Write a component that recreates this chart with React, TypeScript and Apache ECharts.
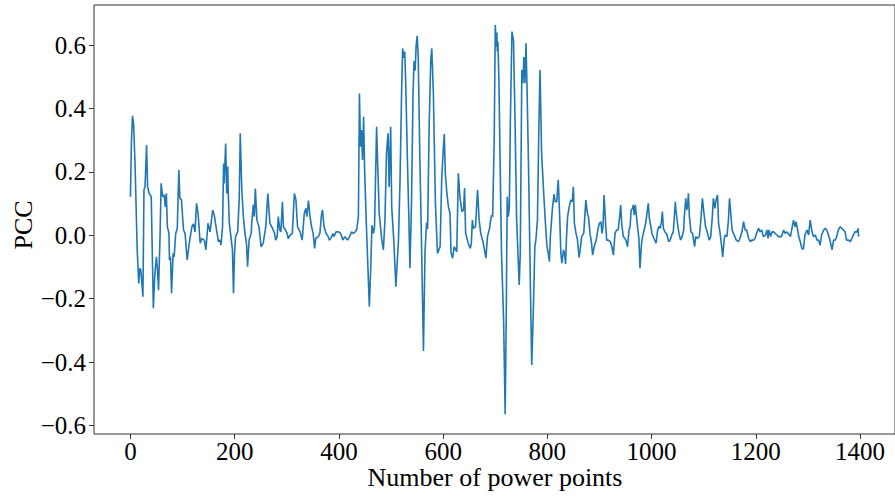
import React, { useEffect, useRef } from "react";
import * as echarts from "echarts";

// Sample positions (point index) and PCC values
const pointIndex = [
  0, 2, 4, 6, 9, 13, 16, 18, 20, 24, 26, 28, 31, 33, 36, 40, 44, 47, 50, 52, 54, 57, 59, 62, 65, 67, 69, 71, 74, 75, 77, 79, 82, 84, 87, 90, 93, 95, 98,
  102, 105, 109, 113, 118, 121, 124, 127, 130, 134, 137, 142, 145, 149, 153, 158, 161, 165, 169, 172, 174, 177, 179, 180, 183, 185, 187, 188, 190, 193, 196, 198,
  200, 202, 206, 209, 211, 214, 217, 220, 223, 225, 228, 232, 233, 236, 238, 240, 243, 247, 251, 255, 260, 264, 268, 273, 277, 279, 282, 284, 287, 289, 292, 294, 298,
  301, 303, 307, 311, 315, 318, 321, 326, 330, 334, 337, 339, 342, 345, 348, 351, 354, 356, 361, 364, 367, 369, 372, 376, 380, 382, 385, 389, 391, 395,
  400, 404, 408, 412, 417, 421, 425, 428, 432, 435, 438, 440, 442, 444, 446, 448, 450, 453, 456, 459, 462, 464, 467, 469, 473, 475, 478, 483, 486, 489, 492, 495, 497,
  500, 502, 506, 510, 515, 518, 521, 523, 525, 527, 529, 532, 535, 537, 540, 543, 545, 547, 549, 551, 553, 556, 559, 563, 566, 569, 571, 574, 577, 579, 582, 586, 590, 595, 598,
  601, 603, 605, 608, 611, 614, 616, 619, 622, 625, 627, 630, 633, 637, 640, 642, 644, 649, 653, 655, 657, 659, 663, 667, 670, 673, 678, 683, 686, 690, 692, 694, 696, 699,
  701, 703, 704, 705, 706, 708, 710, 713, 717, 720, 722, 723, 724, 726, 728, 730, 733, 736, 739, 742, 747, 749, 752, 754, 756, 758, 760, 762, 765, 768, 771, 774, 777, 779, 782, 785, 787, 790, 794, 797,
  800, 803, 805, 807, 811, 814, 816, 819, 822, 825, 827, 829, 832, 834, 836, 838, 840, 843, 846, 849, 851, 853, 856, 859, 862, 864, 867, 871, 875, 878, 880, 883, 886, 888, 891, 895, 898,
  901, 904, 906, 908, 910, 913, 915, 918, 922, 925, 928, 931, 934, 937, 940, 942, 944, 947, 950, 952, 955, 958, 960, 962, 965, 966, 968, 970, 973, 975, 977, 979, 982, 984, 987, 990, 992, 995, 997,
  1000, 1002, 1006, 1010, 1013, 1016, 1018, 1020, 1022, 1024, 1027, 1031, 1034, 1037, 1040, 1043, 1047, 1048, 1052, 1054, 1057, 1060, 1063, 1064, 1067, 1069, 1071, 1072, 1074, 1077, 1080, 1084, 1086, 1089, 1093, 1096, 1099,
  1102, 1105, 1109, 1112, 1115, 1118, 1120, 1123, 1125, 1128, 1130, 1133, 1136, 1138, 1141, 1143, 1146, 1149, 1151, 1153, 1156, 1160, 1164, 1168, 1171, 1175, 1178, 1181, 1184, 1188, 1191, 1194, 1197,
  1200, 1204, 1207, 1210, 1213, 1216, 1220, 1223, 1225, 1227, 1230, 1233, 1236, 1239, 1242, 1245, 1248, 1251, 1255, 1258, 1261, 1264, 1268, 1271, 1274, 1277, 1279, 1282, 1284, 1287, 1290, 1293, 1296,
  1300, 1303, 1306, 1309, 1312, 1316, 1319, 1322, 1325, 1328, 1332, 1335, 1338, 1341, 1344, 1348, 1351, 1354, 1357, 1360, 1364, 1367, 1370, 1373, 1376, 1380, 1383, 1386, 1389, 1392, 1396, 1398, 1399,
];

const pccValue = [
  0.122, 0.3, 0.377, 0.354, 0.217, -0.046, -0.152, -0.104, -0.11, -0.194, 0.143, 0.153, 0.285, 0.153, 0.132, 0.122, -0.23, -0.12, -0.068, -0.11, -0.173, 0.006, 0.164, 0.122, 0.127, 0.09, 0.133, 0.027, 0.006, -0.078, -0.068, -0.183, -0.057, -0.068, 0.006, 0.022, 0.206, 0.117, 0.112,
  0.017, 0.006, -0.078, -0.025, 0.027, 0.036, 0.011, 0.101, 0.069, -0.025, -0.01, -0.015, -0.046, 0.038, 0.011, 0.08, 0.064, 0.022, -0.02, -0.015, -0.031, 0.027, 0.227, 0.164, 0.29, 0.132, 0.217, 0.132, 0.038, -0.004, -0.046, -0.183,
  -0.057, -0.004, 0.011, 0.112, 0.322, 0.143, 0.059, 0.006, -0.025, -0.099, -0.015, 0.006, 0.038, 0.096, 0.059, 0.148, 0.048, 0.027, -0.036, -0.025, 0.027, 0.132, 0.038, 0.022, 0.006, -0.015, -0.004, 0.059, 0.017, 0.011, 0.106, 0.027, 0.017,
  0.006, -0.01, 0.001, 0.006, 0.132, 0.112, 0.027, 0.011, -0.015, 0.069, 0.085, 0.059, 0.11, 0.06, 0.027, 0.006, -0.041, -0.01, -0.004, 0.006, 0.064, 0.08, 0.027, 0.006, -0.004, -0.015, -0.01, 0.006, -0.004, 0.011,
  0.011, 0.006, -0.015, -0.004, -0.015, -0.004, 0.011, 0.006, 0.011, 0.02, 0.06, 0.448, 0.28, 0.332, 0.238, 0.374, 0.206, 0.048, -0.088, -0.225, -0.088, 0.032, 0.006, 0.027, 0.343, 0.227, 0.069, -0.015, -0.046, 0.048, 0.259, 0.322, 0.153,
  0.343, 0.09, -0.015, -0.162, -0.015, 0.175, 0.45, 0.59, 0.56, 0.58, 0.48, 0.25, 0.05, -0.104, 0.1, 0.45, 0.55, 0.52, 0.6, 0.63, 0.56, 0.25, 0.0, -0.365, -0.05, 0.04, 0.02, 0.35, 0.55, 0.59, 0.45, 0.1, -0.057, -0.036, 0.175,
  0.27, 0.32, 0.196, 0.133, 0.09, 0.069, -0.056, -0.072, -0.036, -0.045, -0.052, 0.196, 0.122, 0.075, 0.08, 0.149, 0.007, -0.025, -0.041, -0.025, 0.048, 0.022, 0.027, 0.143, 0.048, 0.007, -0.025, -0.072, -0.004, 0.022, 0.048, 0.064, 0.059, 0.31,
  0.664, 0.595, 0.64, 0.58, 0.61, 0.49, 0.26, -0.057, -0.267, -0.565, -0.267, -0.057, 0.122, 0.059, 0.09, 0.364, 0.643, 0.616, 0.36, 0.05, -0.157, -0.057, 0.522, 0.48, 0.563, 0.48, 0.606, 0.47, 0.206, -0.11, -0.409, -0.246, -0.036, -0.015, 0.048, 0.364, 0.522, 0.259, 0.133, 0.048,
  -0.03, -0.06, -0.083, 0.0, 0.09, 0.13, 0.106, 0.106, 0.175, 0.048, -0.057, -0.088, -0.046, -0.057, -0.09, 0.0, 0.059, 0.09, 0.111, 0.106, 0.153, 0.038, 0.007, -0.015, -0.07, -0.046, -0.004, 0.007, 0.111, 0.069, 0.059, 0.006, -0.025, -0.062, -0.036, -0.015, 0.017,
  0.038, 0.043, 0.006, 0.027, 0.127, 0.038, -0.015, -0.015, -0.02, -0.036, -0.062, 0.006, 0.017, 0.017, 0.059, 0.096, 0.035, -0.004, -0.01, -0.015, -0.036, 0.017, 0.027, 0.08, 0.085, 0.096, 0.064, 0.096, 0.048, 0.017, -0.01, -0.104, -0.025, -0.004, 0.017, 0.038, 0.064, 0.101, 0.054,
  0.027, 0.006, -0.01, -0.025, 0.017, 0.029, 0.022, 0.04, 0.075, 0.022, 0.011, 0.001, -0.02, -0.015, 0.001, 0.011, 0.106, 0.08, 0.027, 0.006, -0.015, -0.004, 0.017, 0.054, 0.117, 0.08, 0.101, 0.133, 0.059, 0.011, 0.006, -0.036, -0.004, -0.01, -0.004, 0.048, 0.117,
  0.069, 0.027, 0.006, -0.015, -0.004, 0.059, 0.117, 0.085, 0.111, 0.127, 0.038, 0.006, -0.036, -0.068, -0.01, 0.001, -0.004, 0.048, 0.117, 0.08, 0.017, 0.001, -0.015, -0.02, -0.01, 0.011, 0.043, 0.017, 0.017, -0.01, -0.02, -0.015, -0.015,
  -0.01, 0.011, 0.022, 0.011, 0.017, -0.004, 0.001, 0.017, -0.01, 0.017, -0.004, 0.011, 0.011, 0.006, 0.001, -0.004, -0.004, -0.004, 0.017, 0.006, 0.011, 0.006, -0.004, 0.022, 0.048, 0.027, 0.043, 0.017, -0.004, -0.02, -0.041, -0.044, 0.001,
  0.017, 0.001, 0.048, 0.017, -0.004, 0.001, -0.015, -0.015, -0.031, 0.001, 0.017, 0.022, 0.017, 0.001, -0.015, -0.046, -0.015, -0.015, -0.004, 0.017, 0.027, 0.022, 0.017, 0.011, -0.015, -0.015, -0.02, -0.01, 0.001, 0.011, 0.011, 0.022, -0.004,
];

const xTickValues = [0, 200, 400, 600, 800, 1000, 1200, 1400];
const yTickValues = [-0.6, -0.4, -0.2, 0.0, 0.2, 0.4, 0.6];
const xTitle = "Number of power points";
const yTitle = "PCC";

const FONT = "'Liberation Serif', 'Times New Roman', 'DejaVu Serif', serif";

export default function App() {
  const ref = useRef<HTMLDivElement>(null);

  useEffect(() => {
    if (!ref.current) return;
    const chart = echarts.init(ref.current, undefined, { renderer: "svg" });
    const seriesData = pointIndex.map((x, i) => [x, pccValue[i]]);
    const fmtY = (v: number) => {
      const s = Math.abs(v).toFixed(1);
      return v < -1e-9 ? "\u2212" + s : s;
    };
    chart.setOption({
      animation: false,
      backgroundColor: "#ffffff",
      grid: [
        { left: 94, top: 5, width: 802, height: 429, show: true, borderColor: "#333", borderWidth: 1, backgroundColor: "transparent" },
        { left: 130.5, top: 5, width: 729.5, height: 429 },
        { left: 94, top: 45.24, width: 802, height: 380.2 },
      ],
      xAxis: [
        { gridIndex: 0, type: "value", min: -70, max: 1469, show: false },
        {
          gridIndex: 1,
          type: "value",
          min: xTickValues[0],
          max: xTickValues[xTickValues.length - 1],
          interval: 200,
          axisLine: { show: false },
          axisTick: { show: true, length: 5, lineStyle: { color: "#333", width: 1 } },
          splitLine: { show: false },
          axisLabel: { fontFamily: FONT, fontSize: 25, color: "#000", margin: 5, formatter: (v: number) => String(v) },
        },
        { gridIndex: 2, type: "value", min: 0, max: 1, show: false },
      ],
      yAxis: [
        { gridIndex: 0, type: "value", min: -0.627, max: 0.727, show: false },
        { gridIndex: 1, type: "value", min: 0, max: 1, show: false },
        {
          gridIndex: 2,
          type: "value",
          min: yTickValues[0],
          max: yTickValues[yTickValues.length - 1],
          interval: 0.2,
          axisLine: { show: false },
          axisTick: { show: true, length: 5, lineStyle: { color: "#333", width: 1 } },
          splitLine: { show: false },
          axisLabel: { fontFamily: FONT, fontSize: 25, color: "#000", margin: 8, formatter: fmtY },
        },
      ],
      graphic: [
        {
          type: "text",
          x: 495,
          y: 477,
          style: { text: xTitle, font: `26px ${FONT}`, fill: "#000", textAlign: "center", textVerticalAlign: "middle" },
        },
        {
          type: "text",
          x: 23,
          y: 225,
          rotation: Math.PI / 2,
          style: { text: yTitle, font: `26px ${FONT}`, fill: "#000", textAlign: "center", textVerticalAlign: "middle" },
        },
      ],
      series: [
        {
          type: "line",
          xAxisIndex: 0,
          yAxisIndex: 0,
          data: seriesData,
          showSymbol: false,
          symbol: "none",
          lineStyle: { color: "#1f77b4", width: 1.6 },
          clip: true,
        },
      ],
    });
    return () => chart.dispose();
  }, []);

  return <div ref={ref} style={{ position: "fixed", left: 0, top: 0, width: 895, height: 497 }} />;
}
